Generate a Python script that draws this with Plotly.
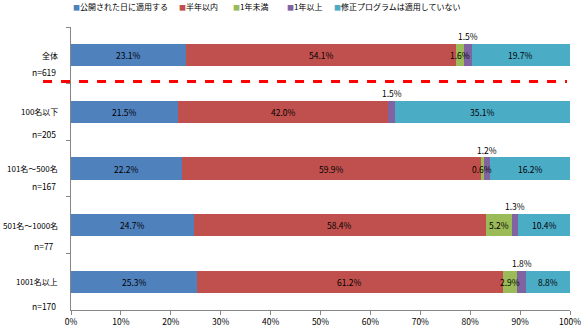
import plotly.graph_objects as go

categories = ["全体", "100名以下", "101名～500名", "501名～1000名", "1001名以上"]
n_labels = ["n=619", "n=205", "n=167", "n=77", "n=170"]
series_names = ["公開された日に適用する", "半年以内", "1年未満", "1年以上", "修正プログラムは適用していない"]
v_same_day = [23.1, 21.5, 22.2, 24.7, 25.3]
v_half_year = [54.1, 42.0, 59.9, 58.4, 61.2]
v_under_1y = [1.6, 0.0, 0.6, 5.2, 2.9]
v_over_1y = [1.5, 1.5, 1.2, 1.3, 1.8]
v_not_applied = [19.7, 35.1, 16.2, 10.4, 8.8]
x_ticks = [0, 10, 20, 30, 40, 50, 60, 70, 80, 90, 100]

series = [v_same_day, v_half_year, v_under_1y, v_over_1y, v_not_applied]
colors = ["#4F81BD", "#C0504D", "#9BBB59", "#8064A2", "#4BACC6"]
FONT = "Noto Sans CJK JP, sans-serif"

fig = go.Figure()
for name, vals, col in zip(series_names, series, colors):
    fig.add_trace(go.Bar(
        y=categories, x=vals, name=name, orientation="h",
        marker=dict(color=col, line=dict(width=0)),
        hoverinfo="x+name",
    ))

annotations = []
cum = [0.0] * len(categories)
for si, vals in enumerate(series):
    for ci, v in enumerate(vals):
        center = cum[ci] + v / 2
        if v > 0:
            annotations.append(dict(x=center, y=categories[ci], xref="x", yref="y",
                                    text=f"{v:.1f}%", showarrow=False,
                                    yshift=19 if si == 3 else 0,
                                    font=dict(size=8.5, color="#000", family=FONT)))
        cum[ci] += v

n_shifts = [-17, -22, -17, -21, -24]
for ci, cat in enumerate(categories):
    annotations.append(dict(x=-0.022, y=cat, xref="paper", yref="y", xanchor="right",
                            text=cat, showarrow=False,
                            font=dict(size=8, color="#000", family=FONT)))
    annotations.append(dict(x=-0.054, y=cat, xref="paper", yref="y", xanchor="center",
                            text=n_labels[ci], showarrow=False, yshift=n_shifts[ci],
                            font=dict(size=8.5, color="#000", family=FONT)))

# legend drawn as text entries along the top
legend_px = [71, 177, 231, 285, 332]
for name, col, px in zip(series_names, colors, legend_px):
    annotations.append(dict(x=(px - 71) / 499, y=1.071, xref="paper", yref="paper",
                            xanchor="left", yanchor="middle", showarrow=False,
                            text=f'<span style="color:{col};font-size:7px">■</span>{name}',
                            font=dict(size=8, color="#000", family=FONT)))

fig.update_layout(
    barmode="stack",
    width=587, height=333,
    margin=dict(l=71, r=17, t=27, b=23, autoexpand=False),
    paper_bgcolor="white", plot_bgcolor="white",
    bargap=0.61,
    font=dict(family=FONT, size=9, color="#000"),
    showlegend=False,
    annotations=annotations,
    shapes=[dict(type="line", xref="paper", yref="y", x0=-0.056, x1=0.994,
                 y0=0.465, y1=0.465, line=dict(color="#FF0000", width=3, dash="dash"))],
)
fig.update_xaxes(range=[0, 100], tickvals=x_ticks, ticktext=[f"{t}%" for t in x_ticks],
                 showgrid=False, zeroline=False, showline=True, linecolor="#868686",
                 ticks="outside", ticklen=4, tickcolor="#868686",
                 tickfont=dict(size=8.5, family=FONT))
fig.update_yaxes(autorange="reversed", showticklabels=False, tickson="boundaries",
                 showgrid=False, zeroline=False, showline=True, linecolor="#868686",
                 ticks="outside", ticklen=4, tickcolor="#868686")

fig.write_html("out.html")
